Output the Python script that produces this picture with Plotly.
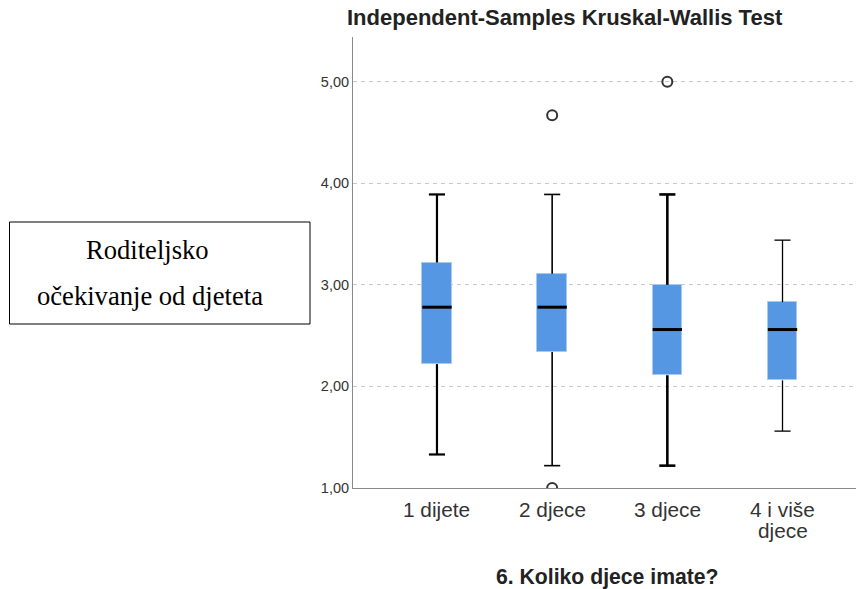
import plotly.graph_objects as go

categories = ["1 dijete", "2 djece", "3 djece", "4 i više<br>djece"]
q1 = [2.22, 2.34, 2.11, 2.06]
median = [2.78, 2.78, 2.56, 2.56]
q3 = [3.22, 3.11, 3.00, 2.83]
lower = [1.33, 1.22, 1.22, 1.56]
upper = [3.89, 3.89, 3.89, 3.44]
outlier_x = [1, 1, 2]
outlier_y = [4.67, 1.00, 5.00]
y_ticks = [1, 2, 3, 4, 5]

W, H = 856, 589
L, R, T, B = 353, 0, 37, 101
pw, ph = W - L - R, H - T - B

def px(x):
    return (x - L) / pw

def py(y):
    return (H - B - y) / ph

pos = list(range(len(categories)))
bw = 0.255
cap = 0.14
wl = [2.2, 1.6, 2.6, 1.3]

fig = go.Figure()
fig.add_trace(go.Bar(
    x=pos, y=[b - a for a, b in zip(q1, q3)], base=q1, width=bw,
    marker=dict(color="#5597e3", line=dict(color="#a8c9f2", width=1)),
    showlegend=False, hoverinfo="skip"))

for i in pos:
    xs = [i, i, None, i, i, None, i - cap / 2, i + cap / 2, None, i - cap / 2, i + cap / 2]
    ys = [q3[i], upper[i], None, q1[i], lower[i], None, upper[i], upper[i], None, lower[i], lower[i]]
    fig.add_trace(go.Scatter(x=xs, y=ys, mode="lines",
                             line=dict(color="black", width=wl[i]),
                             showlegend=False, hoverinfo="skip"))
    fig.add_trace(go.Scatter(x=[i - bw / 2, i + bw / 2], y=[median[i], median[i]], mode="lines",
                             line=dict(color="black", width=3),
                             showlegend=False, hoverinfo="skip"))

fig.add_trace(go.Scatter(x=outlier_x, y=outlier_y, mode="markers",
                         marker=dict(symbol="circle-open", size=10, color="#333333",
                                     line=dict(width=2, color="#333333")),
                         showlegend=False, hoverinfo="skip"))

fig.update_layout(
    width=W, height=H,
    margin=dict(l=L, r=R, t=T, b=B),
    plot_bgcolor="white", paper_bgcolor="white",
    separators=",.",
    font=dict(family="Arial, Liberation Sans", color="#222222"),
    xaxis=dict(range=[-0.729, 3.638], tickvals=pos, showticklabels=False,
               showgrid=False, zeroline=False, showline=True, linecolor="#8a8a8a",
               linewidth=1, ticks=""),
    yaxis=dict(range=[1, 5.44], tickvals=y_ticks, tickformat=".2f",
               showgrid=True, gridcolor="#c8c8c8", griddash="4px,4px", gridwidth=1,
               zeroline=False, showline=True, linecolor="#8a8a8a", linewidth=1,
               ticks="", tickfont=dict(size=14.5, color="#333333")),
    bargap=0,
)

# category labels (one annotation per text line)
for i, lab in enumerate(categories):
    for j, line in enumerate(lab.split("<br>")):
        fig.add_annotation(x=i, y=py(509 + 21 * j), xref="x", yref="paper",
                           text=line, showarrow=False, yanchor="middle", xanchor="center",
                           font=dict(size=20.8, color="#333333"))

fig.add_annotation(x=px(565), y=py(18), xref="paper", yref="paper",
                   text="<b>Independent-Samples Kruskal-Wallis Test</b>", showarrow=False,
                   font=dict(size=22, color="#222222"), xanchor="center", yanchor="middle")
fig.add_annotation(x=px(607), y=py(577), xref="paper", yref="paper",
                   text="<b>6. Koliko djece imate?</b>", showarrow=False,
                   font=dict(size=21.2, color="#222222"), xanchor="center", yanchor="middle")

fig.add_shape(type="rect", xref="paper", yref="paper",
              x0=px(9.5), x1=px(310), y0=py(222), y1=py(324),
              line=dict(color="black", width=1), fillcolor="white")
fig.add_annotation(x=px(147), y=py(250), xref="paper", yref="paper",
                   text="Roditeljsko", showarrow=False,
                   font=dict(family="Liberation Serif, Times New Roman", size=26.6, color="black"),
                   xanchor="center", yanchor="middle")
fig.add_annotation(x=px(150), y=py(296), xref="paper", yref="paper",
                   text="očekivanje od djeteta", showarrow=False,
                   font=dict(family="Liberation Serif, Times New Roman", size=26.6, color="black"),
                   xanchor="center", yanchor="middle")

fig.write_html("out.html", config={"displayModeBar": False},
               post_script="document.body.style.margin='0';document.body.style.overflow='hidden';")
